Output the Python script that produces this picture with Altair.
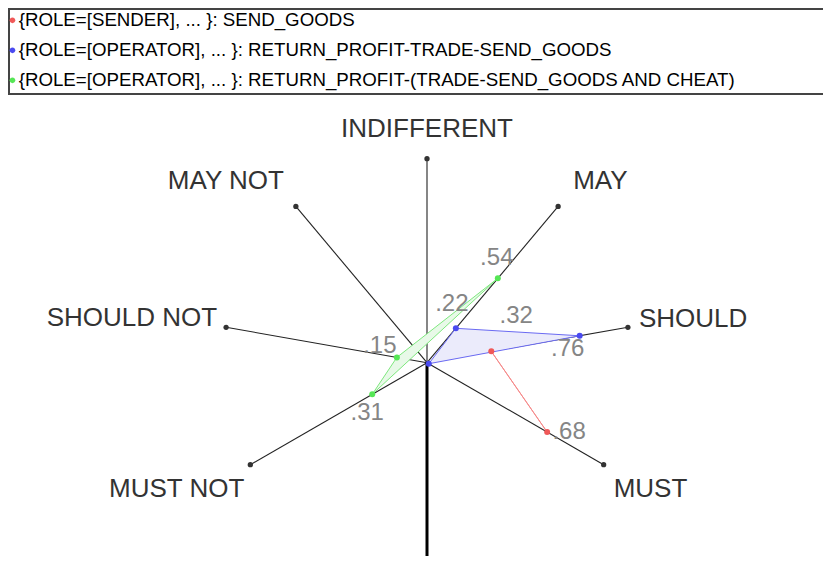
import math
import altair as alt
import pandas as pd

# ---------------- data ----------------
axis_names = ["INDIFFERENT", "MAY", "SHOULD", "MUST", "MUST NOT", "SHOULD NOT", "MAY NOT"]
axis_angles = [0, 40, 80, 120, 240, 280, 320]  # degrees clockwise from up

series_names = [
    "{ROLE=[SENDER], ... }: SEND_GOODS",
    "{ROLE=[OPERATOR], ... }: RETURN_PROFIT-TRADE-SEND_GOODS",
    "{ROLE=[OPERATOR], ... }: RETURN_PROFIT-(TRADE-SEND_GOODS AND CHEAT)",
]

sender_axes = ["SHOULD", "MUST"]
sender_values = [0.32, 0.68]

operator_trade_axes = ["MAY", "SHOULD", "MUST"]
operator_trade_values = [0.22, 0.76, 0.01]

operator_cheat_axes = ["MAY", "MUST NOT", "SHOULD NOT"]
operator_cheat_values = [0.54, 0.31, 0.15]

# ---------------- styles ----------------
point_colors = ["#f05858", "#4a4af0", "#55e655"]
line_colors = ["#f58a8a", "#6a6af2", "#7ee87e"]
fill_colors = ["#ffffff", "#ebebfb", "#e8f9e8"]

FONT = "Liberation Sans"
PX_PER_UNIT = 204.0
W, H = 815, 543
PAD_TOP = 5
CX, CY = 419.0, 349.7  # centre inside the view, pixels

x_scale = alt.Scale(domain=[-CX / PX_PER_UNIT, (W - CX) / PX_PER_UNIT], nice=False, zero=False)
y_scale = alt.Scale(domain=[-(H - CY) / PX_PER_UNIT, CY / PX_PER_UNIT], nice=False, zero=False)

# value-label offsets (pixels) keyed by series index and axis
value_label_offsets = {
    (0, "SHOULD"): (25, -35),
    (0, "MUST"): (22, 0),
    (1, "MAY"): (-4, -24),
    (1, "SHOULD"): (-12, 13),
    (2, "MAY"): (-1, -20),
    (2, "MUST NOT"): (-5, 19),
    (2, "SHOULD NOT"): (-17, -11),
}
# axis-label placement: align, dx, dy
axis_label_style = {
    "INDIFFERENT": ("center", 0, -30),
    "MAY": ("left", 15, -25),
    "SHOULD": ("left", 11, -8),
    "MUST": ("left", 10, 24),
    "MUST NOT": ("right", -6, 24),
    "SHOULD NOT": ("right", -9, -9),
    "MAY NOT": ("right", -12, -25),
}

# legend symbol: a circle nudged right inside its unit box
LEGEND_DOT = "M 0.1,0 A 1,1 0 1,0 2.1,0 A 1,1 0 1,0 0.1,0 Z"

# ---------------- tables ----------------
axes_df = pd.DataFrame({"axis": axis_names, "angle": axis_angles})

rows = []
for si, (axs, vals) in enumerate([
    (sender_axes, sender_values),
    (operator_trade_axes, operator_trade_values),
    (operator_cheat_axes, operator_cheat_values),
]):
    for k, (a, v) in enumerate(zip(axs, vals)):
        rows.append({
            "sid": si,
            "series": series_names[si],
            "axis": a,
            "angle": axis_angles[axis_names.index(a)],
            "value": v,
            "order": k,
        })
pts_df = pd.DataFrame(rows)


def polar(chart, r_expr="datum.value"):
    return chart.transform_calculate(
        px=f"({r_expr}) * sin(datum.angle * PI / 180)",
        py=f"({r_expr}) * cos(datum.angle * PI / 180)",
        zero="0",
        grp="'g' + datum.sid",
    )


X = alt.X("px:Q", scale=x_scale, axis=None)
Y = alt.Y("py:Q", scale=y_scale, axis=None)

# legend box (decoration)
box = alt.Chart(pd.DataFrame({"k": [0]})).mark_rect(
    fill="white", stroke="#444444", strokeWidth=2
).encode(
    x=alt.value(1), x2=alt.value(W + 20), y=alt.value(-4), y2=alt.value(81)
)

# axis spokes
spokes = polar(alt.Chart(axes_df), "1").mark_rule(color="#222222", strokeWidth=1.1).encode(
    x=alt.X("zero:Q", scale=x_scale, axis=None),
    y=alt.Y("zero:Q", scale=y_scale, axis=None),
    x2="px:Q",
    y2="py:Q",
)

# thick downward line (from centre to the bottom)
down = polar(alt.Chart(pd.DataFrame({"angle": [180]})), "1").mark_rule(
    color="black", strokeWidth=3
).encode(
    x=alt.X("zero:Q", scale=x_scale, axis=None),
    y=alt.Y("zero:Q", scale=y_scale, axis=None),
    y2="py:Q",
)

# spoke end dots
ends = polar(alt.Chart(axes_df), "1").mark_circle(
    color="#333333", size=28, opacity=1
).encode(x=X, y=Y)

grp_domain = ["g0", "g1", "g2"]

# polygons (filled)
poly_fill = polar(alt.Chart(pts_df)).mark_line(
    interpolate="linear-closed", strokeWidth=0
).encode(
    x=X, y=Y,
    detail="grp:N",
    order="order:Q",
    fill=alt.Fill("grp:N", scale=alt.Scale(domain=grp_domain, range=fill_colors), legend=None),
)

poly_line = polar(alt.Chart(pts_df)).mark_line(
    interpolate="linear-closed", strokeWidth=1
).encode(
    x=X, y=Y,
    detail="grp:N",
    order="order:Q",
    stroke=alt.Stroke("grp:N", scale=alt.Scale(domain=grp_domain, range=line_colors), legend=None),
)

points = polar(alt.Chart(pts_df)).mark_circle(size=36, opacity=1).encode(
    x=X, y=Y,
    color=alt.Color(
        "series:N",
        scale=alt.Scale(domain=series_names, range=point_colors),
        legend=alt.Legend(
            title=None,
            orient="none",
            legendX=-8,
            legendY=-2,
            symbolType=LEGEND_DOT,
            symbolSize=32,
            symbolStrokeWidth=0,
            symbolOpacity=1,
            labelFont=FONT,
            labelFontSize=18.7,
            labelColor="black",
            labelLimit=0,
            labelOffset=0,
            rowPadding=10,
            padding=0,
        ),
    ),
)

layers = [box, spokes, down, poly_fill, poly_line, points, ends]

# value labels
for (si, ax), (dx, dy) in value_label_offsets.items():
    lab = polar(alt.Chart(pts_df)).transform_filter(
        f"datum.sid == {si} && datum.axis == '{ax}'"
    ).transform_calculate(
        label="replace(format(datum.value, '.2f'), '0.', '.')"
    ).mark_text(
        font=FONT, fontSize=24, color="#858585", align="center", baseline="middle", dx=dx, dy=dy
    ).encode(x=X, y=Y, text="label:N")
    layers.append(lab)

# axis labels
for name, (align, dx, dy) in axis_label_style.items():
    t = polar(alt.Chart(axes_df), "1").transform_filter(
        f"datum.axis == '{name}'"
    ).mark_text(
        font=FONT, fontSize=26, color="#333333", align=align, baseline="middle", dx=dx, dy=dy
    ).encode(x=X, y=Y, text="axis:N")
    layers.append(t)

chart = alt.layer(*layers).properties(
    width=W,
    height=H,
    padding={"left": 0, "top": PAD_TOP, "right": 0, "bottom": 0},
    autosize=alt.AutoSizeParams(type="none"),
).configure_view(stroke=None)

chart.save("out.html", embed_options={"renderer": "svg", "actions": False})
